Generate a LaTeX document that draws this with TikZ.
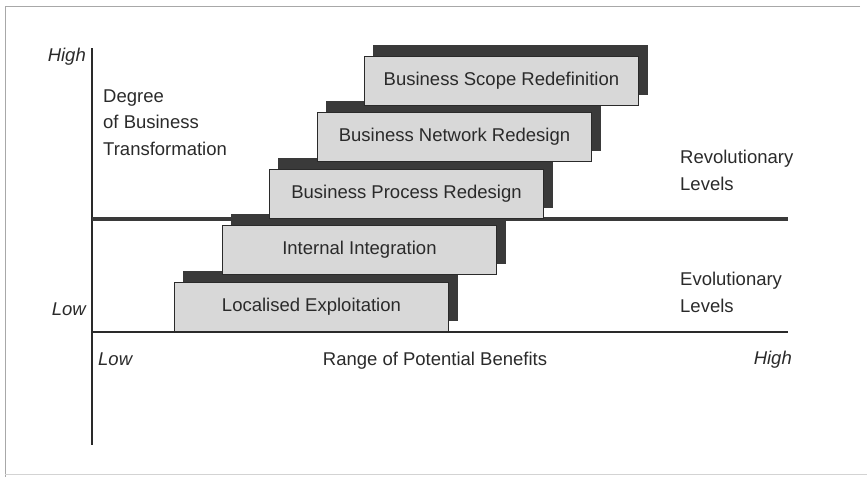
\documentclass[tikz,border=0pt]{standalone}
\usepackage{fontspec}
\setmainfont{Liberation Sans}
\usetikzlibrary{shadows}
\definecolor{ink}{HTML}{2A2A2A}
\definecolor{shade}{HTML}{3A3A3A}
\definecolor{panel}{HTML}{D8D8D8}
\definecolor{framegray}{HTML}{A8A8A8}
\begin{document}
\begin{tikzpicture}[x=1pt,y=-1pt,
  lbl/.style={font=\fontsize{18.5}{22}\selectfont, text=ink, inner sep=0pt},
  ital/.style={lbl, font=\fontsize{18.5}{22}\selectfont\itshape},
  levelbox/.style={draw=ink, line width=0.9pt, fill=panel, anchor=north west,
    minimum width=274pt, minimum height=49pt, inner sep=0pt,
    text height=13.5pt, text depth=4pt,
    font=\fontsize{18.5}{22}\selectfont, text=ink,
    copy shadow={shadow xshift=9pt, shadow yshift=11pt, fill=shade, draw=shade}},
  axisline/.style={draw=ink, line width=1.6pt},
  divider/.style={draw=shade, line width=4pt},
  framerule/.style={draw=framegray, line width=1pt}]
\useasboundingbox (0,0) rectangle (867,477);

% outer frame
\coordinate (f1) at (860,6);
\coordinate (f2) at (5,6);
\coordinate (f3) at (5,477);
\coordinate (f4) at (5,474);
\coordinate (f5) at (867,474);
\draw[framerule] (f1) -- (f2) -- (f3);
\draw[draw=framegray!50, line width=0.8pt] (f4) -- (f5);

% axes and the evolutionary / revolutionary divider
\coordinate (ytop) at (92,48);
\coordinate (ybot) at (92,445);
\coordinate (xl) at (92,332);
\coordinate (xr) at (788,332);
\coordinate (dl) at (92,219);
\coordinate (dr) at (788,219);
\draw[axisline] (ytop) -- (ybot);
\draw[axisline, line width=1.4pt] (xl) -- (xr);
\draw[divider] (dl) -- (dr);

% the five levels
\node[levelbox] (loc) at (174,282) {Localised Exploitation};
\node[levelbox] (int) at (222,225) {Internal Integration};
\node[levelbox] (bpr) at (269,169) {Business Process Redesign};
\node[levelbox] (bnr) at (317,112) {Business Network Redesign};
\node[levelbox] (bsr) at (364,56) {Business Scope Redefinition};

% axis labels
\node[ital, anchor=base east] (yhigh) at (86,61) {High};
\node[ital, anchor=base east] (ylow) at (86,315) {Low};
\node[lbl, anchor=base west] (deg1) at (103,102) {Degree};
\node[lbl, anchor=base west] (deg2) at (103,128) {of Business};
\node[lbl, anchor=base west] (deg3) at (103,155) {Transformation};
\node[ital, anchor=base west] (xlow) at (98,365) {Low};
\node[lbl, anchor=base] (range) at (435,365) {Range of Potential Benefits};
\node[ital, anchor=base east] (xhigh) at (792,364) {High};
\node[lbl, anchor=base west] (rev1) at (680,163) {Revolutionary};
\node[lbl, anchor=base west] (rev2) at (680,190) {Levels};
\node[lbl, anchor=base west] (evo1) at (680,285) {Evolutionary};
\node[lbl, anchor=base west] (evo2) at (680,312) {Levels};
\end{tikzpicture}
\end{document}
